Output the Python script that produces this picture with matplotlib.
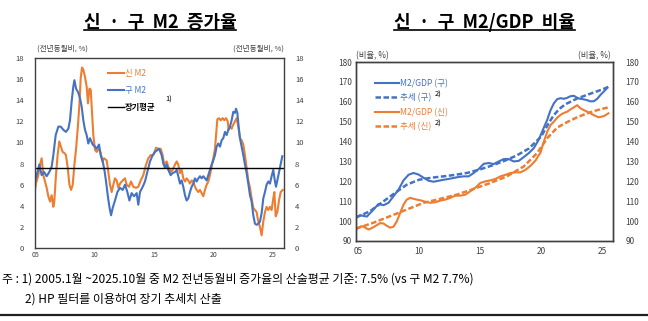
import matplotlib
matplotlib.use("Agg")
import matplotlib.pyplot as plt
from matplotlib.lines import Line2D

plt.rcParams['font.family'] = ['Noto Sans CJK KR', 'DejaVu Sans']

BLUE = '#4472C4'
ORANGE = '#ED7D31'
GRAY = '#404040'

# ---------------- Left chart data: M2 growth (YoY, %) ----------------
old_m2_years = [2005.0, 2005.14, 2005.36, 2005.56, 2005.76, 2005.98, 2006.2, 2006.4, 2006.54, 2006.74,
                2006.96, 2007.16, 2007.38, 2007.6, 2007.8, 2007.94, 2008.08, 2008.22, 2008.31, 2008.45,
                2008.64, 2008.78, 2008.92, 2009.06, 2009.2, 2009.34, 2009.48, 2009.62, 2009.85, 2010.04,
                2010.18, 2010.38, 2010.52, 2010.69, 2010.83, 2010.97, 2011.11, 2011.25, 2011.39, 2011.53,
                2011.72, 2011.92, 2012.14, 2012.37, 2012.56, 2012.76, 2012.93, 2013.12, 2013.32, 2013.54,
                2013.68, 2013.82, 2014.05, 2014.24, 2014.44, 2014.66, 2014.89, 2015.08, 2015.42, 2015.64,
                2015.78, 2015.92, 2016.06, 2016.2, 2016.4, 2016.56, 2016.76, 2016.9, 2017.04, 2017.18,
                2017.32, 2017.46, 2017.6, 2017.74, 2017.88, 2018.02, 2018.16, 2018.3, 2018.44, 2018.58,
                2018.72, 2018.86, 2019.0, 2019.14, 2019.28, 2019.42, 2019.56, 2019.7, 2019.84, 2019.98,
                2020.12, 2020.26, 2020.4, 2020.54, 2020.68, 2020.82, 2020.96, 2021.1, 2021.24, 2021.38,
                2021.52, 2021.66, 2021.8, 2021.89, 2022.0, 2022.11, 2022.22, 2022.36, 2022.5, 2022.64,
                2022.78, 2022.92, 2023.06, 2023.2, 2023.34, 2023.48, 2023.62, 2023.76, 2023.9, 2024.04,
                2024.18, 2024.32, 2024.46, 2024.6, 2024.74, 2024.88, 2025.02, 2025.16, 2025.25, 2025.36,
                2025.5, 2025.64, 2025.78]
old_m2_values = [6.3, 6.9, 7.9, 6.9, 7.2, 6.8, 7.2, 7.7, 8.8, 10.7,
                 11.5, 11.5, 11.2, 11.0, 11.3, 12.1, 13.9, 15.3, 15.9, 15.1,
                 14.7, 14.2, 13.4, 12.1, 11.2, 10.7, 9.9, 10.4, 9.8, 9.6,
                 9.4, 9.8, 8.8, 8.2, 7.4, 6.3, 5.0, 3.9, 3.1, 3.8,
                 4.5, 5.3, 5.7, 5.5, 6.0, 5.3, 4.5, 5.2, 4.9, 5.2,
                 4.1, 5.3, 5.8, 6.3, 7.2, 8.2, 8.8, 9.1, 9.4, 8.8,
                 8.0, 7.6, 7.9, 7.4, 6.9, 7.1, 7.2, 7.4, 6.8, 6.1,
                 6.4, 5.8, 5.0, 4.5, 4.7, 5.3, 5.8, 6.1, 6.6, 6.3,
                 6.6, 6.8, 6.6, 6.8, 6.6, 6.4, 6.9, 7.4, 7.9, 8.3,
                 8.8, 9.6, 9.9, 9.6, 10.2, 10.4, 11.0, 10.7, 11.2, 11.5,
                 12.1, 12.9, 12.8, 13.2, 12.8, 11.5, 10.4, 9.6, 8.8, 7.9,
                 7.1, 6.1, 5.0, 4.4, 3.1, 2.3, 2.2, 2.3, 2.5, 3.3,
                 4.7, 5.3, 6.0, 6.3, 6.1, 6.8, 7.4, 6.3, 5.8, 6.4,
                 7.2, 7.9, 8.7]

new_m2_years = [2005.0, 2005.08, 2005.28, 2005.42, 2005.56, 2005.7, 2005.84, 2005.98, 2006.12, 2006.26,
                2006.4, 2006.54, 2006.62, 2006.76, 2006.9, 2007.04, 2007.18, 2007.32, 2007.46, 2007.6,
                2007.75, 2007.89, 2008.03, 2008.17, 2008.31, 2008.45, 2008.59, 2008.73, 2008.84, 2008.95,
                2009.06, 2009.2, 2009.34, 2009.45, 2009.57, 2009.68, 2009.79, 2009.9, 2010.04, 2010.18,
                2010.38, 2010.52, 2010.66, 2010.8, 2011.02, 2011.16, 2011.3, 2011.44, 2011.58, 2011.72,
                2011.86, 2012.0, 2012.14, 2012.37, 2012.56, 2012.7, 2012.9, 2013.07, 2013.26, 2013.49,
                2013.68, 2013.88, 2014.1, 2014.33, 2014.52, 2014.72, 2014.94, 2015.17, 2015.36, 2015.56,
                2015.72, 2015.86, 2016.06, 2016.2, 2016.4, 2016.56, 2016.76, 2016.9, 2017.04, 2017.18,
                2017.32, 2017.46, 2017.6, 2017.74, 2017.88, 2018.02, 2018.16, 2018.3, 2018.44, 2018.58,
                2018.72, 2018.86, 2019.0, 2019.14, 2019.28, 2019.42, 2019.56, 2019.7, 2019.84, 2019.98,
                2020.12, 2020.21, 2020.32, 2020.46, 2020.6, 2020.77, 2020.91, 2021.05, 2021.19, 2021.27,
                2021.38, 2021.52, 2021.66, 2021.8, 2021.94, 2022.08, 2022.22, 2022.36, 2022.5, 2022.64,
                2022.78, 2022.92, 2023.06, 2023.2, 2023.34, 2023.48, 2023.62, 2023.76, 2023.9, 2024.04,
                2024.18, 2024.32, 2024.46, 2024.6, 2024.74, 2024.88, 2025.02, 2025.11, 2025.22, 2025.36,
                2025.5, 2025.64, 2025.81]
new_m2_values = [5.5, 6.1, 6.9, 7.9, 8.5, 6.9, 6.3, 5.7, 4.9, 4.4,
                 5.0, 3.9, 4.4, 6.9, 8.8, 10.1, 9.6, 9.1, 9.0, 8.8,
                 7.6, 6.0, 5.5, 6.0, 7.9, 9.4, 11.3, 13.6, 16.1, 17.1,
                 16.9, 16.2, 15.3, 13.7, 15.1, 15.0, 12.8, 10.7, 9.3, 9.1,
                 9.4, 9.0, 8.2, 8.5, 8.3, 7.2, 6.0, 5.3, 6.0, 6.6,
                 6.4, 5.7, 6.1, 6.4, 6.6, 6.0, 5.8, 6.3, 5.8, 5.7,
                 5.8, 6.4, 6.9, 7.9, 8.5, 8.8, 8.8, 9.5, 9.4, 9.4,
                 8.8, 7.9, 8.2, 7.7, 7.2, 7.4, 7.9, 8.2, 7.9, 7.1,
                 7.4, 6.6, 6.3, 6.6, 6.4, 6.1, 6.4, 6.3, 5.8, 5.5,
                 5.3, 5.5, 5.2, 4.9, 5.5, 6.0, 6.3, 6.9, 7.7, 8.5,
                 9.4, 10.7, 12.2, 12.3, 12.1, 12.3, 12.1, 12.3, 12.0, 11.2,
                 11.5, 11.3, 11.7, 12.0, 12.3, 11.5, 10.4, 10.2, 9.8, 8.8,
                 7.6, 6.4, 5.7, 4.7, 3.8, 3.6, 3.4, 2.5, 2.0, 1.2,
                 2.5, 3.4, 3.9, 3.6, 3.9, 3.6, 4.7, 5.3, 3.0, 3.4,
                 4.5, 5.3, 5.5]

long_run_avg = 7.55
left_xticks = [2005, 2010, 2015, 2020, 2025]
left_xticklabels = ['05', '10', '15', '20', '25']
left_yticks = [0, 2, 4, 6, 8, 10, 12, 14, 16, 18]

# ---------------- Right chart data: M2/GDP ratio (%) ----------------
old_ratio_years = [2004.85, 2005.19, 2005.46, 2005.74, 2006.28, 2006.69, 2007.1, 2007.51, 2007.92, 2008.33,
                   2008.74, 2009.15, 2009.56, 2009.97, 2010.38, 2010.79, 2011.2, 2011.61, 2012.02, 2012.43,
                   2012.84, 2013.25, 2013.66, 2014.07, 2014.48, 2014.89, 2015.3, 2015.71, 2016.12, 2016.53,
                   2016.94, 2017.35, 2017.76, 2018.17, 2018.58, 2018.99, 2019.4, 2019.81, 2020.22, 2020.49,
                   2020.77, 2021.04, 2021.31, 2021.58, 2021.86, 2022.13, 2022.4, 2022.68, 2022.95, 2023.22,
                   2023.5, 2023.77, 2024.04, 2024.32, 2024.59, 2024.86, 2025.14, 2025.41]
old_ratio_values = [101.8, 103.0, 102.6, 102.3, 105.8, 108.6, 108.0, 109.2, 112.5, 115.8,
                    120.5, 123.3, 124.2, 123.4, 121.8, 120.3, 119.8, 120.3, 120.8, 121.2,
                    121.7, 122.2, 122.5, 122.5, 124.2, 126.2, 128.8, 129.2, 128.7, 130.0,
                    131.2, 131.2, 130.0, 130.3, 132.2, 134.2, 136.7, 141.0, 147.0, 150.8,
                    155.8, 159.2, 161.3, 161.8, 161.5, 162.0, 162.8, 163.0, 162.0, 161.5,
                    161.2, 160.8, 160.2, 160.3, 161.5, 163.5, 165.2, 167.0]

old_trend_years = [2004.85, 2006.0, 2007.0, 2008.0, 2009.0, 2010.0, 2011.0, 2012.0, 2013.0, 2014.0,
                   2015.0, 2016.0, 2017.0, 2018.0, 2019.0, 2020.0, 2020.5, 2021.0, 2021.5, 2022.0,
                   2023.0, 2024.0, 2025.0, 2025.5]
old_trend_values = [101.8, 105.0, 109.5, 114.0, 118.3, 120.8, 121.8, 122.5, 123.3, 124.3,
                    126.0, 128.0, 130.3, 133.0, 136.5, 142.5, 148.0, 153.0, 156.5, 158.8,
                    161.8, 164.0, 166.2, 167.5]

new_ratio_years = [2004.85, 2005.05, 2005.33, 2005.6, 2005.87, 2006.15, 2006.56, 2006.83, 2007.1, 2007.38,
                   2007.65, 2007.92, 2008.2, 2008.47, 2008.74, 2009.0, 2009.29, 2009.56, 2009.84, 2010.1,
                   2010.38, 2010.66, 2010.93, 2011.34, 2011.75, 2012.16, 2012.57, 2012.98, 2013.39, 2013.8,
                   2014.2, 2014.6, 2015.03, 2015.44, 2015.85, 2016.26, 2016.67, 2017.08, 2017.5, 2017.9,
                   2018.3, 2018.72, 2019.13, 2019.54, 2019.95, 2020.22, 2020.5, 2020.77, 2021.04, 2021.31,
                   2021.6, 2021.9, 2022.13, 2022.4, 2022.68, 2022.95, 2023.22, 2023.5, 2023.77, 2024.04,
                   2024.3, 2024.7, 2025.14, 2025.5]
new_ratio_values = [95.8, 96.7, 97.5, 96.7, 95.8, 96.5, 98.0, 99.0, 98.8, 97.6,
                    96.7, 97.2, 100.0, 104.2, 108.3, 110.8, 111.7, 111.2, 110.8, 110.5,
                    110.0, 109.5, 109.2, 109.5, 110.3, 110.8, 111.7, 112.8, 112.8, 113.3,
                    115.0, 116.7, 119.2, 120.0, 120.5, 121.2, 122.5, 123.3, 124.2, 124.5,
                    124.5, 125.8, 127.8, 130.5, 134.5, 140.0, 145.0, 148.3, 150.0, 152.0,
                    153.5, 154.5, 155.0, 156.2, 157.2, 158.3, 156.7, 155.8, 155.0, 154.2,
                    153.3, 152.2, 152.8, 154.2]

new_trend_years = [2004.85, 2006.28, 2007.65, 2009.0, 2010.38, 2011.75, 2013.1, 2014.48, 2015.85, 2017.2,
                   2018.58, 2019.67, 2020.5, 2021.31, 2022.13, 2022.95, 2023.77, 2024.59, 2025.5]
new_trend_values = [96.2, 99.2, 102.5, 105.8, 109.2, 111.2, 113.3, 116.2, 119.2, 122.5,
                    127.5, 134.2, 141.7, 147.0, 149.8, 152.2, 154.2, 155.8, 157.2]

right_xticks = [2005, 2010, 2015, 2020, 2025]
right_xticklabels = ['05', '10', '15', '20', '25']
right_yticks = [90, 100, 110, 120, 130, 140, 150, 160, 170, 180]

W, H = 648, 321
fig = plt.figure(figsize=(W / 100, H / 100), dpi=100)


def fx(px):
    return px / W


def fy(py):
    return 1 - py / H


# ---------------- Left axes ----------------
axL = fig.add_axes([fx(35), fy(248), (284 - 35) / W, (248 - 58) / H])
axL.plot(new_m2_years, new_m2_values, color=ORANGE, lw=1.5, label='신 M2')
axL.plot(old_m2_years, old_m2_values, color=BLUE, lw=1.5, label='구 M2')
axL.axhline(long_run_avg, color='black', lw=1.0, label='장기평균')
axL.set_xlim(2005.0, 2025.92)
axL.set_ylim(0, 18)
axL.set_yticks(left_yticks)
axL.set_xticks(left_xticks)
axL.set_xticklabels(left_xticklabels)
axL.tick_params(axis='y', length=0, labelsize=5.5, labelcolor=GRAY, labelright=True, pad=8)
axL.tick_params(axis='x', length=0, labelsize=5, labelcolor=GRAY, pad=2)
for s in axL.spines.values():
    s.set_color(GRAY)
    s.set_linewidth(1.0)
axL.text(0.01, 1.03, '(전년동월비, %)', transform=axL.transAxes, fontsize=5.5, color=GRAY,
         ha='left', va='bottom')
axL.text(1.0, 1.03, '(전년동월비, %)', transform=axL.transAxes, fontsize=5.5, color=GRAY,
         ha='right', va='bottom')
legL = axL.legend(loc='upper left', bbox_to_anchor=(0.28, 0.96), frameon=False, fontsize=6,
                  handlelength=1.9, handletextpad=0.15, labelspacing=0.95, borderaxespad=0)
for t, c in zip(legL.get_texts(), [ORANGE, BLUE, 'black']):
    t.set_color(c)
legL.get_texts()[2].set_fontweight('bold')
axL.text(0.525, 0.78, '1)', transform=axL.transAxes, fontsize=5.5, color='black', ha='left', va='center')

# ---------------- Right axes ----------------
axR = fig.add_axes([fx(356), fy(241), (613 - 356) / W, (241 - 62) / H])
axR.plot(old_ratio_years, old_ratio_values, color=BLUE, lw=1.5, label='M2/GDP (구)')
axR.plot(old_trend_years, old_trend_values, color=BLUE, lw=1.8, ls=(0, (2.2, 1.0)), label='추세 (구)')
axR.plot(new_ratio_years, new_ratio_values, color=ORANGE, lw=1.5, label='M2/GDP (신)')
axR.plot(new_trend_years, new_trend_values, color=ORANGE, lw=1.8, ls=(0, (2.2, 1.0)), label='추세 (신)')
axR.set_xlim(2004.85, 2025.88)
axR.set_ylim(90, 180)
axR.set_yticks(right_yticks)
axR.set_xticks(right_xticks)
axR.set_xticklabels(right_xticklabels)
axR.tick_params(axis='y', length=0, labelsize=6, labelcolor=GRAY, pad=3)
axR.tick_params(axis='x', length=0, labelsize=6, labelcolor=GRAY, pad=4)
axR2 = axR.twinx()
axR2.set_ylim(90, 180)
axR2.set_yticks(right_yticks)
axR2.tick_params(axis='y', length=0, labelsize=6, labelcolor=GRAY, pad=9)
for a in (axR, axR2):
    for s in a.spines.values():
        s.set_color(GRAY)
        s.set_linewidth(1.0)
axR.text(0.0, 1.01, '(비율, %)', transform=axR.transAxes, fontsize=6, color=GRAY, ha='left', va='bottom')
axR.text(0.99, 1.01, '(비율, %)', transform=axR.transAxes, fontsize=6, color=GRAY, ha='right', va='bottom')
legR = axR.legend(loc='upper left', bbox_to_anchor=(0.06, 0.925), frameon=False, fontsize=6.2,
                  handlelength=2.8, handletextpad=0.15, labelspacing=0.62, borderaxespad=0)
for t, c in zip(legR.get_texts(), [BLUE, BLUE, ORANGE, ORANGE]):
    t.set_color(c)
axR.text(0.305, 0.818, '2)', transform=axR.transAxes, fontsize=5.5, color='black', ha='left', va='center')
axR.text(0.305, 0.655, '2)', transform=axR.transAxes, fontsize=5.5, color='black', ha='left', va='center')

# ---------------- Titles with underline ----------------
tL = fig.text(fx(160), fy(22), '신  ·  구  M2  증가율', fontsize=13, fontweight='bold',
              ha='center', va='center', color='black')
tR = fig.text(fx(484), fy(22), '신  ·  구  M2/GDP  비율', fontsize=13, fontweight='bold',
              ha='center', va='center', color='black')
fig.canvas.draw()
r = fig.canvas.get_renderer()
for t in (tL, tR):
    bb = t.get_window_extent(r)
    fig.add_artist(Line2D([bb.x0 / W, bb.x1 / W], [fy(30), fy(30)], color='black', lw=1.2,
                          transform=fig.transFigure))

# ---------------- Footnotes ----------------
fig.text(fx(2), fy(279), '주 : 1) 2005.1월 ~2025.10월 중 M2 전년동월비 증가율의 산술평균 기준: 7.5% (vs 구 M2 7.7%)',
         fontsize=8.6, ha='left', va='center', color='black')
fig.text(fx(25), fy(299), '2) HP 필터를 이용하여 장기 추세치 산출', fontsize=8.6, ha='left', va='center', color='black')
fig.add_artist(Line2D([0, 1], [fy(315), fy(315)], color='#202020', lw=1.6, transform=fig.transFigure))

fig.savefig('out.png', dpi=100)
